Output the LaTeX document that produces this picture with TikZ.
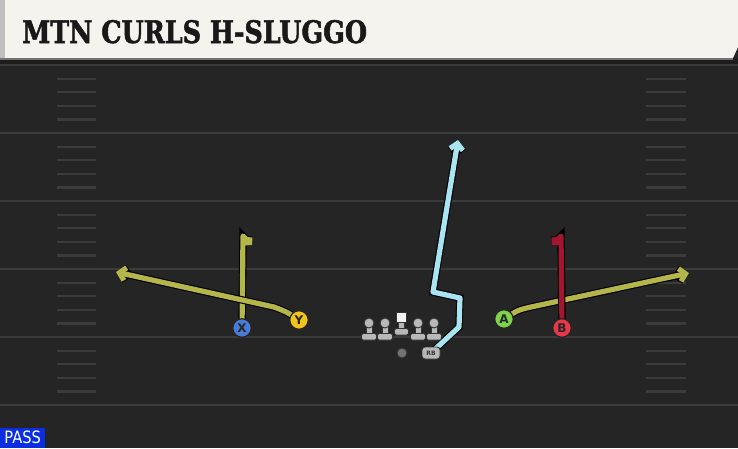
\documentclass[tikz,border=0pt]{standalone}
\usepackage{fontspec}
\setmainfont{DejaVu Sans}
\newfontfamily\titlefont{DejaVu Serif}[FakeStretch=0.82, FakeBold=1.6]
\usetikzlibrary{arrows.meta, positioning}

\definecolor{cream}{HTML}{F5F3EE}
\definecolor{fieldgray}{HTML}{252525}
\definecolor{stripgray}{HTML}{1D1D1D}
\definecolor{yardgray}{HTML}{3B3B3B}
\definecolor{linegray}{HTML}{B8B8B8}
\definecolor{olive}{HTML}{B4B54A}
\definecolor{crimson}{HTML}{A3162F}
\definecolor{skyblue}{HTML}{A8E4F2}
\definecolor{xblue}{HTML}{4A7BD8}
\definecolor{yyellow}{HTML}{F2C51C}
\definecolor{agreen}{HTML}{7ED34A}
\definecolor{bred}{HTML}{E8364A}
\definecolor{passblue}{HTML}{0B2FE0}

\pgfdeclarelayer{back}
\pgfdeclarelayer{routes}
\pgfsetlayers{back,routes,main}

\begin{document}
\begin{tikzpicture}[
            x=1pt, y=-1pt,
            player/.style={circle, draw=black!85, line width=1.2, minimum size=18.5, inner sep=0pt, font=\bfseries\fontsize{12}{12}\selectfont, text=black!85},
            route/.style={line width=5.2, line join=round, preaction={draw=black, line width=7.4}},
            routetip/.style={-{Straight Barb[length=6pt, width=13pt]}},
            curltip/.style={-{Straight Barb[length=3.5pt, width=8pt]}},
            yardline/.style={draw=yardgray, line width=2.4},
            hashmark/.style={draw=yardgray, line width=2.2},
            lineman/.style={fill=linegray, draw=black!80, line width=0.9}
        ]
        \useasboundingbox (0,0) rectangle (738,448);

        % Field and title bar
        \begin{pgfonlayer}{back}
            \fill[fieldgray] (0,0) rectangle (738,448);
            \fill[stripgray] (0,58) rectangle (738,65);
            \fill[cream] (0,0) -- (738,0) -- (738,47) -- (733,58) -- (0,58) -- cycle;
            \fill[black!25] (0,0) rectangle (5,58);
            \draw[black!55, line width=1.2] (0,59) -- (733,59);

            % Yard lines and hashes
            \foreach \k in {0,...,5} {
                    \draw[yardline] (0,65+68*\k) -- (738,65+68*\k);
                }
            \foreach \k in {0,...,4} {
                    \foreach \j in {1,...,4} {
                            \draw[hashmark] (57,65+68*\k+13.6*\j) -- (96,65+68*\k+13.6*\j);
                            \draw[hashmark] (646,65+68*\k+13.6*\j) -- (686,65+68*\k+13.6*\j);
                        }
                }
        \end{pgfonlayer}

        \node[anchor=base west, inner sep=0pt, font=\titlefont\bfseries\fontsize{31}{31}\selectfont, text=black!90] (title) at (22,43) {MTN CURLS H-SLUGGO};

        % Offensive line
        \foreach \x in {369,385,418,434} {
                \draw[lineman, rounded corners=1.5] (\x-7.5,333.5) rectangle (\x+7.5,340);
                \draw[lineman] (\x-3,324) rectangle (\x+3,333.5);
                \draw[lineman] (\x,323) circle (5);
            }
        \draw[lineman, rounded corners=1.5] (394.5,328.5) rectangle (408.5,335);
        \draw[lineman] (398.5,322) rectangle (404.5,328.5);
        \draw[fill=white!95!black, draw=black!80, line width=0.9] (396.5,312) rectangle (406.5,322);

        % Backs and receivers
        \node[circle, fill=black!55, draw=black!80, line width=0.9, minimum size=10, inner sep=0pt] (qb) at (402,353) {};
        \node[fill=linegray, draw=black!80, line width=0.9, rounded corners=3, minimum width=18, minimum height=12, inner sep=0pt, font=\bfseries\fontsize{6}{6}\selectfont, text=black!80] (rb) at (431,353) {RB};
        \node[player, fill=xblue] (x) at (242,328) {X};
        \node[player, fill=yyellow] (y) at (299,320) {Y};
        \node[player, fill=agreen] (a) at (504,319) {A};
        \node[player, fill=bred] (b) at (562,328) {B};

        \coordinate (ytip) at (116,272);
        \coordinate (atip) at (689,273);
        \coordinate (rbtip) at (458,140);

        % Routes
        \begin{pgfonlayer}{routes}
            \draw[route, olive, curltip] (x.center) -- (243,236) -- (252,245);
            \draw[route, olive, routetip] (y.center) .. controls (287,312) .. (274,307) -- (ytip);
            \draw[route, olive, routetip] (a.center) .. controls (518,310) .. (531,307) -- (atip);
            \draw[route, crimson, curltip] (b.center) -- (561,236) -- (552,245);
            \draw[route, skyblue, routetip] (rb.center) -- (459,327) -- (460,298) -- (433,292) -- (rbtip);
        \end{pgfonlayer}

        \node[anchor=south west, fill=passblue, text=white, inner sep=0pt, minimum width=45, minimum height=20, font=\fontsize{17}{17}\selectfont] (pass) at (0,448) {\scalebox{0.86}[1]{PASS}};
    \end{tikzpicture}
\end{document}
